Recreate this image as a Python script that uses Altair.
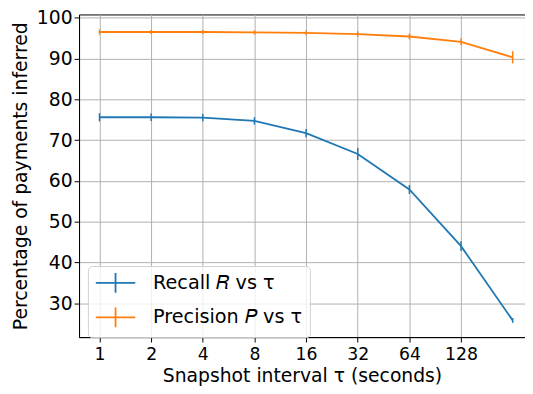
import altair as alt
import pandas as pd

tau = [1, 2, 4, 8, 16, 32, 64, 128, 256]
recall = [75.6, 75.6, 75.5, 74.7, 71.7, 66.6, 57.9, 44.0, 25.8]
recall_err = [1.0, 0.9, 0.9, 0.9, 1.0, 1.5, 1.1, 1.2, 0.6]
precision = [96.5, 96.5, 96.5, 96.4, 96.3, 96.0, 95.4, 94.1, 90.3]
precision_err = [0.6, 0.5, 0.5, 0.5, 0.6, 0.7, 0.7, 0.8, 1.5]
series = ["Recall 𝑅 vs τ", "Precision 𝑃 vs τ"]
colors = ["#1f77b4", "#ff7f0e"]
x_ticks = [1, 2, 4, 8, 16, 32, 64, 128]
y_ticks = [30, 40, 50, 60, 70, 80, 90, 100]

rows = []
for name, vals, errs in [(series[0], recall, recall_err), (series[1], precision, precision_err)]:
    for t, v, e in zip(tau, vals, errs):
        rows.append({"tau": t, "value": v, "err": e, "series": name})
df = pd.DataFrame(rows)

base = alt.Chart(df).transform_calculate(
    lo="datum.value - datum.err", hi="datum.value + datum.err"
)

x = alt.X(
    "tau:Q",
    scale=alt.Scale(type="log", base=2, domain=[0.76, 302], nice=False),
    axis=alt.Axis(values=x_ticks, format="d", title="Snapshot interval τ (seconds)"),
)
y = alt.Y(
    "value:Q",
    scale=alt.Scale(domain=[21.7, 100.8], nice=False, zero=False),
    axis=alt.Axis(values=y_ticks, title="Percentage of payments inferred"),
)
color = alt.Color(
    "series:N",
    scale=alt.Scale(domain=series, range=colors),
    sort=series,
    legend=alt.Legend(
        title=None,
        orient="none",
        legendX=9,
        legendY=255,
        symbolType="M-2,0L2,0M0,-1L0,1",
        symbolSize=400,
        symbolStrokeWidth=1.8,
        symbolFillColor="transparent",
        symbolOffset=11,
        labelFontSize=19.5,
        labelOffset=27,
        rowPadding=7,
        padding=6,
        strokeColor="#d0d0d0",
        fillColor="rgba(255,255,255,0.8)",
        cornerRadius=4,
        labelColor="black",
    ),
)

line = base.mark_line(strokeWidth=1.8).encode(x=x, y=y, color=color)
err = base.mark_rule(strokeWidth=1.5).encode(
    x=x, y="lo:Q", y2="hi:Q",
    color=alt.Color("series:N", scale=alt.Scale(domain=series, range=colors), legend=None),
)

chart = alt.layer(line, err).properties(
    width=452,
    height=327,
    autosize=alt.AutoSizeParams(type="none"),
    padding={"left": 72, "top": 4, "right": 0, "bottom": 47},
).configure(
    font="DejaVu Sans",
).configure_view(
    stroke="black", strokeWidth=1
).configure_axis(
    grid=True,
    gridColor="#b0b0b0",
    gridWidth=1,
    domainColor="black",
    tickColor="black",
    tickSize=5,
    titleFontSize=19,
    labelColor="black",
    titleColor="black",
    titleFontWeight="normal",
    labelPadding=2,
).configure_axisX(
    labelFontSize=17.5,
    labelPadding=4,
    titlePadding=3,
).configure_axisY(
    labelFontSize=19,
    titlePadding=6,
)

chart.save("out.html", embed_options={"renderer": "svg", "actions": False})
